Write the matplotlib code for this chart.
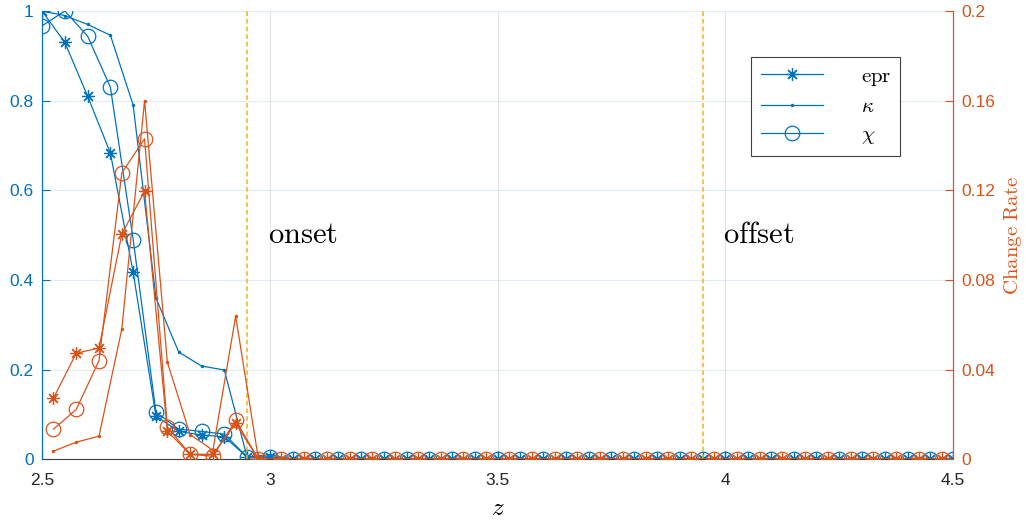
import numpy as np
import matplotlib
matplotlib.use('Agg')
import matplotlib.pyplot as plt
from matplotlib.ticker import FixedLocator, FuncFormatter
from matplotlib.lines import Line2D

plt.rcParams['font.family'] = ['Liberation Sans', 'DejaVu Sans']
plt.rcParams['mathtext.fontset'] = 'cm'

# sample positions (left axis every 0.05, change rate between them)
z_val = np.round(np.arange(2.5, 4.5001, 0.05), 3)
z_rate = np.round(np.arange(2.525, 4.4751, 0.05), 3)

epr_head = [1.0, 0.93, 0.81, 0.683, 0.417, 0.096, 0.062, 0.054, 0.05, 0.005, 0.005]
kappa_head = [1.0, 0.99, 0.97, 0.946, 0.79, 0.36, 0.239, 0.208, 0.199, 0.005, 0.01]
chi_head = [0.967, 1.0, 0.944, 0.83, 0.49, 0.105, 0.067, 0.062, 0.056, 0.005, 0.005]

# change rates (right axis)
epr_rate_head = [0.0272, 0.0473, 0.0496, 0.1004, 0.1196, 0.0125, 0.0022, 0.0022, 0.016, 0.0]
kappa_rate_head = [0.0036, 0.0076, 0.0103, 0.058, 0.16, 0.0433, 0.011, 0.004, 0.0638, 0.0]
chi_rate_head = [0.0134, 0.0222, 0.044, 0.1277, 0.143, 0.0143, 0.0022, 0.0013, 0.0174, 0.0]

def pad(head, n):
    return np.array(head + [0.0] * (n - len(head)))

epr = pad(epr_head, len(z_val))
kappa = pad(kappa_head, len(z_val))
chi = pad(chi_head, len(z_val))
epr_rate = pad(epr_rate_head, len(z_rate))
kappa_rate = pad(kappa_rate_head, len(z_rate))
chi_rate = pad(chi_rate_head, len(z_rate))

onset_z = 2.95
offset_z = 3.95

blue = '#0072BD'
orange = '#D95319'
gold = '#EDB120'
star = (8, 2, 0)

fig = plt.figure(figsize=(10.26, 5.26), dpi=100)
ax = fig.add_axes([0.041, 0.127, 0.888, 0.852])
ax2 = ax.twinx()

lw = 0.9
ax.plot(z_val, epr, color=blue, lw=lw, marker=star, ms=9, mew=0.9)
ax.plot(z_val, kappa, color=blue, lw=lw, marker='o', ms=2.5, mew=0)
ax.plot(z_val, chi, color=blue, lw=lw, marker='o', ms=10.5, mfc='none', mew=0.9)

ax2.plot(z_rate, epr_rate, color=orange, lw=lw, marker=star, ms=9, mew=0.9)
ax2.plot(z_rate, kappa_rate, color=orange, lw=lw, marker='o', ms=2.5, mew=0)
ax2.plot(z_rate, chi_rate, color=orange, lw=lw, marker='o', ms=10.5, mfc='none', mew=0.9)

ax.axvline(onset_z, color=gold, ls=(0, (3, 2)), lw=1.1)
ax.axvline(offset_z, color=gold, ls=(0, (3, 2)), lw=1.1)
ax.text(2.995, 0.5, r'$\mathrm{onset}$', fontsize=22, va='center', ha='left')
ax.text(3.995, 0.5, r'$\mathrm{offset}$', fontsize=22, va='center', ha='left')

ax.set_xlim(2.5, 4.5)
ax.set_ylim(0, 1)
ax2.set_ylim(0, 0.2)

fmt = FuncFormatter(lambda v, p: '%g' % v)
ax.xaxis.set_major_locator(FixedLocator([2.5, 3, 3.5, 4, 4.5]))
ax.yaxis.set_major_locator(FixedLocator([0, 0.2, 0.4, 0.6, 0.8, 1]))
ax2.yaxis.set_major_locator(FixedLocator([0, 0.04, 0.08, 0.12, 0.16, 0.2]))
ax.xaxis.set_major_formatter(fmt)
ax.yaxis.set_major_formatter(fmt)
ax2.yaxis.set_major_formatter(fmt)

ax.tick_params(axis='x', direction='in', length=6, colors='#262626', labelsize=12.5, pad=10)
ax.tick_params(axis='y', direction='in', length=6, colors=blue, labelsize=12.5, pad=6)
ax2.tick_params(axis='y', direction='in', length=6, colors=orange, labelsize=12.5, pad=6)

ax.xaxis.grid(True, color='#262626', alpha=0.12, lw=0.8)
ax.yaxis.grid(True, color=blue, alpha=0.12, lw=0.8)

for a in (ax, ax2):
    a.spines['top'].set_visible(False)
    a.spines['left'].set_color(blue)
    a.spines['right'].set_color(orange)
    a.spines['bottom'].set_color('#404040')
ax2.spines['bottom'].set_visible(False)

ax.set_xlabel(r'$z$', fontsize=18, labelpad=6)
ax2.set_ylabel(r'$\mathrm{Change\ Rate}$', fontsize=15, color=orange, labelpad=5)

# legend only for the blue series
handles = [
    Line2D([], [], color=blue, lw=lw, marker=star, ms=9, mew=0.9),
    Line2D([], [], color=blue, lw=lw, marker='o', ms=2.5, mew=0),
    Line2D([], [], color=blue, lw=lw, marker='o', ms=10.5, mfc='none', mew=0.9),
]
leg = ax2.legend(handles, [r'$\mathrm{epr}$', r'$\kappa$', r'$\chi$'],
                 loc='upper right', bbox_to_anchor=(0.942, 0.897), borderaxespad=0,
                 fontsize=15, fancybox=False, framealpha=1, edgecolor='#404040',
                 handlelength=3.0, handletextpad=1.8, borderpad=0.45, labelspacing=0.45)
leg.get_frame().set_linewidth(0.8)

fig.savefig('out.png', dpi=100)
